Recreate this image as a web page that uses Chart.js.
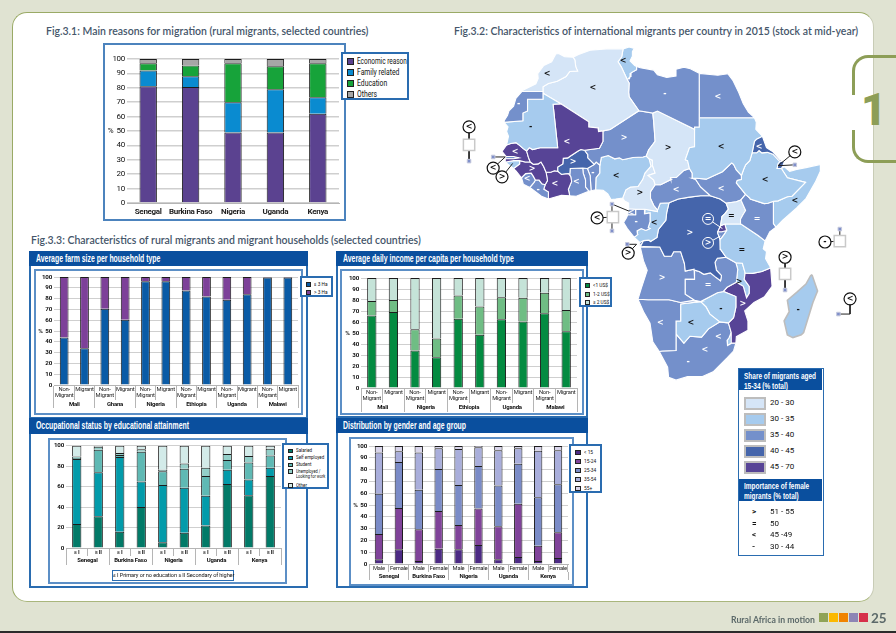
<!DOCTYPE html>
<html>
<head>
<meta charset="utf-8">
<script src="https://cdn.jsdelivr.net/npm/chart.js@4"></script>
<style>
html,body{margin:0;padding:0}
body{width:896px;height:633px;overflow:hidden;background:#e0e3d2;position:relative;font-family:Roboto,sans-serif}
.abs,canvas{position:absolute;box-sizing:border-box}
canvas{display:block}
.title{font:600 10.5px Lato,sans-serif;color:#45566a;white-space:nowrap}
.head{background:#0a4f9e;color:#fff;font:bold 10px "Liberation Sans",sans-serif;padding:1.5px 0 0 7px;white-space:nowrap;box-sizing:border-box}
.head span,.sq{display:inline-block;transform-origin:0 50%;transform:scaleX(.69)}
.frame{border:2px solid #2a6cb0;background:#fff}
.inner{border:2px solid #5c8fc6;background:#fff}
.leg{border:2px solid #2a6cb0;background:#fff;color:#111;white-space:nowrap;box-sizing:border-box}
.leg div{position:absolute;left:4px}
.leg i{display:inline-block;border:1.5px solid #222;box-sizing:border-box;vertical-align:-1px;margin-right:3px}
</style>
</head>
<body>
<div class="abs" style="left:12px;top:12px;width:862px;height:590px;background:#fff;border:1.5px solid #9aaa66;border-right-color:#c8ccb6;border-bottom-color:#a9b67c;border-radius:15px"></div>
<div class="abs" style="left:0;top:631px;width:896px;height:2px;background:#2b2b2b"></div>

<div class="abs" style="left:852px;top:55px;width:44px;height:40px;border-left:3px solid #8d9e57;border-top:3px solid #8d9e57;border-top-left-radius:16px"></div>
<div class="abs" style="left:852px;top:130px;width:44px;height:33px;border-left:3px solid #8d9e57;border-bottom:3px solid #8d9e57;border-bottom-left-radius:16px"></div>
<div class="abs" style="left:861px;top:84px;font:900 44px Roboto,sans-serif;color:#8d9e57;line-height:52px">1</div>

<div class="abs title" style="left:46px;top:25px">Fig.3.1: Main reasons for migration (rural migrants, selected countries)</div>
<div class="abs title" style="left:454px;top:25px">Fig.3.2: Characteristics of international migrants per country in 2015 (stock at mid-year)</div>
<div class="abs title" style="left:31px;top:234px">Fig.3.3: Characteristics of rural migrants and migrant households (selected countries)</div>

<div class="abs frame" style="left:29px;top:251px;width:279px;height:168px"></div>
<div class="abs frame" style="left:336px;top:251px;width:252px;height:167px"></div>
<div class="abs frame" style="left:29px;top:418px;width:279px;height:170px"></div>
<div class="abs frame" style="left:336px;top:418px;width:252px;height:170px"></div>
<div class="abs head" style="left:29px;top:251px;width:279px;height:15px"><span>Average farm size per household type</span></div>
<div class="abs head" style="left:336px;top:251px;width:252px;height:15px"><span>Average daily income per capita per household type</span></div>
<div class="abs head" style="left:29px;top:418px;width:279px;height:16px"><span>Occupational status by educational attainment</span></div>
<div class="abs head" style="left:336px;top:418px;width:252px;height:15px"><span>Distribution by gender and age group</span></div>

<div id="root"></div>

<div class="abs" style="left:738px;top:368px;width:86px;height:188px;border:1.5px solid #2a6cb0;background:#fff;color:#111;font-size:8px" id="mapkey"></div>

<div class="abs" style="left:731px;top:614px;font:bold 8.7px Lato,sans-serif;color:#5c6a6a;white-space:nowrap">Rural Africa in motion</div>
<div class="abs" style="left:871px;top:610px;font:bold 13.5px Lato,sans-serif;color:#5c6a6a">25</div>
<div id="footswatches"></div>

<script>
// Fig 3.1
const reasonCountries = ["Senegal", "Burkina Faso", "Nigeria", "Uganda", "Kenya"]
const economicReason = [81, 80.5, 49, 49, 62]
const familyRelated = [11, 7.5, 21, 30, 11.5]
const education = [5, 7.5, 27, 16, 23.5]
const otherReason = [3, 4.5, 3, 5, 3]

// Fig 3.3 farm size
const farmGroups = ["Mali", "Ghana", "Nigeria", "Ethiopia", "Uganda", "Malawi"]
const farmSmall = [44, 34, 70.5, 60.5, 96, 96, 87.5, 82, 79, 84, 99.5, 99.5]
const farmLarge = [56, 66, 29.5, 39.5, 4, 4, 12.5, 18, 21, 16, 0.5, 0.5]

// Fig 3.3 income
const incomeGroups = ["Mali", "Nigeria", "Ethiopia", "Uganda", "Malawi"]
const incomeLow = [66, 69, 34, 28, 63, 48.5, 62.5, 60.5, 68, 51.5]
const incomeMid = [13, 11, 19.5, 17, 21, 25.5, 20, 21.5, 18.5, 19.5]
const incomeHigh = [21, 20, 46.5, 55, 16, 26, 17.5, 18, 13.5, 29]

// Fig 3.3 occupation
const occupationGroups = ["Senegal", "Burkina Faso", "Nigeria", "Uganda", "Kenya"]
const occupationLevels = ["≤ I", "≥ II", "≤ I", "≥ II", "≤ I", "≥ II", "≤ I", "≥ II", "≤ I", "≥ II"]
const salaried = [23.5, 31, 16, 40, 5.5, 15, 22, 62.5, 51.5, 70.5]
const selfEmployed = [63.5, 43, 73, 25, 56, 44, 29, 14, 15.5, 8]
const student = [1, 22, 2, 29, 13.5, 18.5, 19.5, 9.5, 16.5, 12]
const unemployed = [1.5, 3, 2, 2.5, 1.5, 5, 8, 6, 6.5, 6.5]
const otherStatus = [10.5, 1, 7, 3.5, 23.5, 17.5, 21.5, 8, 10, 3]

// Fig 3.3 gender and age
const ageGroups = ["Senegal", "Burkina Faso", "Nigeria", "Uganda", "Kenya"]
const ageUnder15 = [4, 12.5, 2.5, 13, 12.5, 16, 4, 6, 2.5, 5]
const age15to24 = [21.5, 35, 27, 32, 20.5, 31, 28, 45, 13, 22]
const age25to34 = [34, 39, 33.5, 35.5, 34, 36, 34.5, 34, 41, 40.5]
const age35to54 = [35, 9, 31.5, 17.5, 30.5, 16, 30, 13, 39.5, 29]
const age55plus = [5.5, 4.5, 5.5, 2, 2.5, 1, 3.5, 2, 4, 3.5]

// Fig 3.2 outlines, lon / lat
const morocco = [[-5.9,35.8],[-5.3,35.9],[-4,35.2],[-2.2,35.1],[-1.8,34.5],[-1.6,33],[-1.2,32.1],[-2.9,32],[-3.7,30.9],[-5.6,29.9],[-7.5,29.4],[-8.67,28.7],[-8.67,27.67],[-13.2,27.67],[-12.9,28],[-10.2,29.3],[-9.7,30.5],[-9.8,31.5],[-8.5,33.3],[-6.8,34.1]]
const westernSahara = [[-8.67,27.67],[-13.2,27.67],[-14.5,26.2],[-15,24.5],[-16,23.5],[-16.3,22.5],[-17,21.4],[-17.05,21],[-13,21.33],[-13,23],[-12,23.45],[-12,26],[-8.67,26]]
const mauritania = [[-17.05,21],[-16.2,20],[-16.5,19],[-16.1,18],[-16.5,16.1],[-15.6,16.4],[-14.5,16.6],[-13.7,16],[-12.9,15.3],[-12.2,14.8],[-11.6,15.5],[-10.9,15.1],[-9.3,15.5],[-5.5,15.5],[-6.5,24.9],[-4.83,25],[-8.67,27.3],[-8.67,26],[-12,26],[-12,23.45],[-13,23],[-13,21.33]]
const mali = [[-12.2,14.8],[-11.6,15.5],[-10.9,15.1],[-9.3,15.5],[-5.5,15.5],[-6.5,24.9],[-4.83,25],[1.2,21.1],[1.2,20],[3.2,19.8],[3.3,19],[4.25,19.15],[4.25,16.85],[3.5,15.4],[0.3,14.95],[-0.5,15.1],[-1.1,14.8],[-2,14.2],[-2.9,13.6],[-3.3,13.3],[-4.3,13.2],[-4.4,12],[-5.5,11.3],[-5.5,10.4],[-6.2,10.5],[-7,10.2],[-8,10.2],[-8.5,11.4],[-9.1,12.4],[-9.7,12],[-10.7,11.9],[-11.4,12.4],[-11.8,13.4]]
const algeria = [[-2.2,35.1],[-1,35.7],[1.5,36.6],[5,36.9],[8.6,36.9],[8.3,35.2],[7.5,34.1],[8.2,33],[9.5,30.2],[9.9,29.5],[9.8,27.5],[9.9,26.5],[12,23.5],[5.8,19.45],[4.25,19.15],[3.3,19],[3.2,19.8],[1.2,20],[1.2,21.1],[-4.83,25],[-8.67,27.3],[-8.67,28.7],[-7.5,29.4],[-5.6,29.9],[-3.7,30.9],[-2.9,32],[-1.2,32.1],[-1.6,33],[-1.8,34.5]]
const tunisia = [[8.6,36.9],[9.9,37.3],[11,37],[10.6,36.3],[10.6,35.3],[10.1,34.3],[11.1,33.3],[11.5,33.1],[11.5,32.4],[10.3,31.7],[10.1,30.9],[9.5,30.2],[8.2,33],[7.5,34.1],[8.3,35.2]]
const libya = [[11.5,33.1],[12.3,32.8],[15.2,32.3],[16,31.3],[18,30.7],[20,31],[20,32.5],[21.7,32.9],[23.1,32.6],[25,31.6],[25,22],[25,20],[24,20],[24,19.5],[16,23.45],[15,23],[12,23.5],[9.9,26.5],[9.8,27.5],[9.9,29.5],[9.5,30.2],[10.1,30.9],[10.3,31.7],[11.5,32.4]]
const egypt = [[25,31.6],[29,31.2],[31.2,31.5],[32.3,30],[33.5,27.5],[34.5,25],[35.6,23.2],[36.9,22],[25,22]]
const sudan = [[25,22],[36.9,22],[37.3,21],[37.2,19.5],[38.6,18],[37.4,17.4],[36.9,16.9],[36.4,14.4],[35.9,12.7],[35,11.8],[34.6,10.9],[34.1,9.5],[33,10.7],[32.4,11.9],[32,12.2],[30,10.3],[28,9.4],[26.5,8.7],[24.5,8.9],[23.5,8.9],[23.5,10],[22.9,11],[22.5,12.7],[22,12.9],[22.9,15.5],[24,15.7],[24,20],[25,20]]
const eritrea = [[38.6,18],[39.5,15.5],[40.8,14.7],[42.4,12.9],[43.1,12.7],[42.4,12.5],[40.9,14.1],[39.7,14.5],[38.5,14.4],[37.9,14.9],[37.4,14.4],[36.4,14.4],[36.9,16.9],[37.4,17.4]]
const djibouti = [[42.4,12.5],[43.1,12.7],[43.3,12.4],[43,11.5],[42.7,11],[41.8,11],[42,12]]
const ethiopia = [[36.4,14.4],[37.4,14.4],[37.9,14.9],[38.5,14.4],[39.7,14.5],[40.9,14.1],[42.4,12.5],[42,12],[41.8,11],[42.7,11],[44,9],[47.9,8],[45,5],[44,4.9],[42,4],[41,3.9],[39.8,3.5],[39,3.4],[36,4.4],[35.9,4.6],[35,5.4],[33,7.9],[33.2,8.4],[34.1,8.6],[34.1,9.5],[34.6,10.9],[35,11.8],[35.9,12.7]]
const somalia = [[42.7,11],[43.3,11.4],[44.5,10.4],[46,10.8],[48,11.2],[51.2,11.9],[51.1,10.4],[50,8],[48,4.5],[46,2.5],[43,-0.2],[41.55,-1.68],[41,-0.9],[41,3.9],[42,4],[44,4.9],[45,5],[47.9,8],[44,9]]
const kenya = [[41.55,-1.68],[40.2,-2.7],[39.2,-4.67],[37.7,-3.5],[34,-1],[33.9,0],[34.5,1.1],[35,1.9],[34,4.2],[35,5.4],[35.9,4.6],[36,4.4],[39,3.4],[39.8,3.5],[41,3.9],[41,-0.9]]
const uganda = [[33.9,0],[34,-1],[30.5,-1],[29.6,-1.4],[29.9,0.6],[30.5,1.2],[31.3,2.2],[30.8,3.5],[33,3.8],[34,4.2],[35,1.9],[34.5,1.1]]
const rwanda = [[30.5,-1],[30.9,-2.4],[29.9,-2.7],[29,-2.7],[29.6,-1.4]]
const burundi = [[29.9,-2.7],[30.9,-2.4],[30.4,-3.2],[29.5,-4.4],[29,-3],[29,-2.7]]
const tanzania = [[34,-1],[37.7,-3.5],[39.2,-4.67],[38.8,-6.4],[39.5,-7],[39.3,-8.5],[40.4,-10.5],[38.5,-11.3],[36.5,-11.7],[34.9,-11.6],[34.3,-9.5],[32.9,-9.4],[30.8,-8.2],[29.6,-6.5],[29.5,-4.4],[30.4,-3.2],[30.9,-2.4],[30.5,-1]]
const southSudan = [[34.1,9.5],[34.1,8.6],[33.2,8.4],[33,7.9],[35,5.4],[34,4.2],[33,3.8],[30.8,3.5],[29.5,4.4],[27.4,5.1],[25.3,7],[24.2,8.7],[23.5,8.9],[24.5,8.9],[26.5,8.7],[28,9.4],[30,10.3],[32,12.2],[32.4,11.9],[33,10.7]]
const chad = [[24,19.5],[24,15.7],[22.9,15.5],[22,12.9],[22.5,12.7],[22.9,11],[21.7,10.6],[20.1,9.1],[18.8,9],[18.9,8.6],[16.7,7.5],[15.5,7.5],[15.2,8.5],[14,9.5],[15.5,10],[15,11.5],[14.9,12.8],[14.2,13.1],[13.6,13.7],[14.1,15],[15.5,16.9],[15.2,21],[15,23],[16,23.45]]
const niger = [[12,23.5],[15,23],[15.2,21],[15.5,16.9],[14.1,15],[13.6,13.7],[12.9,13.5],[10.7,13.4],[8.5,12.9],[7.8,13.3],[6.8,13.1],[5.4,13.8],[3.9,13.4],[3.6,11.7],[2.8,12.4],[2.4,11.9],[1,13.3],[1,14],[0.3,14.95],[3.5,15.4],[4.25,16.85],[4.25,19.15],[5.8,19.45]]
const nigeria = [[3.6,11.7],[3.9,13.4],[5.4,13.8],[6.8,13.1],[7.8,13.3],[8.5,12.9],[10.7,13.4],[12.9,13.5],[13.6,13.7],[14.2,13.1],[14.6,11.5],[13.3,10],[12.8,8.6],[11.8,7.1],[10.2,7],[9.2,6.4],[8.5,4.6],[7,4.4],[6,4.3],[5.3,5.5],[4.3,6.3],[2.7,6.4],[2.8,9],[3.6,10]]
const cameroon = [[14.2,13.1],[14.9,12.8],[15,11.5],[15.5,10],[14,9.5],[15.2,8.5],[15.5,7.5],[14.5,6],[14.5,4.5],[15.2,3],[16,2],[16,1.7],[13.3,2.2],[11.3,2.2],[9.8,2.3],[9.8,3.5],[8.9,4],[8.5,4.6],[9.2,6.4],[10.2,7],[11.8,7.1],[12.8,8.6],[13.3,10],[14.6,11.5]]
const car = [[22.9,11],[23.5,10],[23.5,8.9],[24.2,8.7],[25.3,7],[27.4,5.1],[25.3,5.1],[22.9,4.8],[20.5,4.4],[18.5,3.6],[16.6,3.5],[16,2],[15.2,3],[14.5,4.5],[14.5,6],[15.5,7.5],[16.7,7.5],[18.9,8.6],[18.8,9],[20.1,9.1],[21.7,10.6]]
const eqGuinea = [[9.8,2.3],[11.3,2.2],[11.3,1],[9.6,1]]
const gabon = [[9.6,1],[11.3,1],[11.3,2.2],[13.3,2.2],[13.2,1.2],[14.4,1.4],[14.4,-0.5],[14,-1.8],[14.4,-2],[13.5,-2.4],[12.5,-2],[11.6,-2.5],[11.7,-3.3],[11,-3.9],[9.5,-2],[8.7,-0.7],[9.3,0.3]]
const congo = [[13.3,2.2],[16,1.7],[16,2],[16.6,3.5],[18.5,3.6],[18,1.5],[17.8,-0.2],[16.2,-2.2],[15.9,-3.9],[14.5,-4.8],[14.2,-4.5],[13,-4.6],[12.2,-5],[11,-3.9],[11.7,-3.3],[11.6,-2.5],[12.5,-2],[13.5,-2.4],[14.4,-2],[14,-1.8],[14.4,-0.5],[14.4,1.4],[13.2,1.2]]
const drc = [[18.5,3.6],[20.5,4.4],[22.9,4.8],[25.3,5.1],[27.4,5.1],[29.5,4.4],[30.8,3.5],[31.3,2.2],[30.5,1.2],[29.9,0.6],[29.6,-1.4],[29,-2.7],[29,-3],[29.5,-4.4],[29.6,-6.5],[30.8,-8.2],[28.9,-8.4],[28.4,-9.3],[28.7,-11],[29.8,-12.2],[29.6,-13.3],[28.4,-12.4],[27.4,-11.6],[26,-11.9],[25,-11.3],[24,-11],[23.9,-10.8],[22,-11.2],[21.8,-9.5],[21,-7],[19.5,-7],[19,-8],[17.5,-8],[16.5,-6],[13,-5.9],[12.3,-6],[13,-4.6],[14.2,-4.5],[14.5,-4.8],[15.9,-3.9],[16.2,-2.2],[17.8,-0.2],[18,1.5]]
const cabinda = [[12.2,-5],[13,-4.6],[12.9,-5],[12.2,-5.8]]
const zambia = [[30.8,-8.2],[32.9,-9.4],[33.3,-10.8],[33,-13.6],[31,-14.7],[30.2,-15.6],[28.9,-15.9],[27.8,-16.5],[25.3,-17.8],[24,-17.5],[22,-16.2],[22,-13],[24,-13],[24,-11],[25,-11.3],[26,-11.9],[27.4,-11.6],[28.4,-12.4],[29.6,-13.3],[29.8,-12.2],[28.7,-11],[28.4,-9.3],[28.9,-8.4]]
const angola = [[12.3,-6],[13,-5.9],[16.5,-6],[17.5,-8],[19,-8],[19.5,-7],[21,-7],[21.8,-9.5],[22,-11.2],[23.9,-10.8],[24,-11],[24,-13],[22,-13],[22,-16.2],[24,-17.5],[23.4,-17.6],[21,-18],[18.5,-17.4],[14,-17.4],[11.8,-17.3],[12.5,-15],[13.8,-11],[13,-9]]
const namibia = [[11.8,-17.3],[14,-17.4],[18.5,-17.4],[21,-18],[23.4,-17.6],[25.3,-17.8],[21,-18.3],[21,-22],[20,-22],[20,-28.4],[17,-28.5],[16.4,-28.6],[15,-26.5],[14.4,-22.5],[13,-20]]
const botswana = [[21,-18.3],[25.3,-17.8],[26.5,-19],[27.3,-20.5],[29.4,-22.2],[27,-23.7],[25.5,-25.5],[23,-25.3],[21.7,-26.8],[20,-24.8],[20,-22],[21,-22]]
const zimbabwe = [[25.3,-17.8],[27.8,-16.5],[28.9,-15.9],[30.2,-15.6],[32.9,-16.7],[32.9,-19],[32.4,-21.3],[31.3,-22.4],[29.4,-22.2],[27.3,-20.5],[26.5,-19]]
const mozambique = [[40.4,-10.5],[40.7,-14.5],[39,-16.8],[36.8,-18],[34.8,-19.8],[35.5,-22],[35.5,-24],[33,-25.4],[32.9,-26.8],[32,-26.8],[31.9,-24.5],[31.3,-22.4],[32.4,-21.3],[32.9,-19],[32.9,-16.7],[30.2,-15.6],[31,-14.7],[33,-13.6],[34.5,-14.5],[35.2,-17],[35.8,-16],[35.8,-14.5],[34.7,-13],[34.9,-11.6],[36.5,-11.7],[38.5,-11.3]]
const malawi = [[32.9,-9.4],[34.3,-9.5],[34.9,-11.6],[34.7,-13],[35.8,-14.5],[35.8,-16],[35.2,-17],[34.5,-14.5],[33,-13.6],[33.3,-10.8]]
const southAfrica = [[16.4,-28.6],[17,-28.5],[20,-28.4],[20,-24.8],[21.7,-26.8],[23,-25.3],[25.5,-25.5],[27,-23.7],[29.4,-22.2],[31.3,-22.4],[31.9,-24.5],[31.4,-25.7],[31,-26.2],[31.1,-27.3],[32,-26.8],[32.9,-26.8],[32.4,-28.5],[31,-30],[28,-33],[25.7,-34],[22.5,-34],[20,-34.8],[18.4,-34.2],[18.2,-32]]
const lesotho = [[27,-29.6],[28.2,-28.7],[29.3,-29.5],[28.4,-30.6],[27.4,-30.3]]
const swaziland = [[31.4,-25.7],[31.9,-24.5],[32,-26.8],[31.1,-27.3],[31,-26.2]]
const madagascar = [[49.3,-12],[50.5,-15.5],[49.5,-18],[47.5,-24.5],[47,-25],[45.2,-25.6],[44,-25],[43.3,-22],[44.4,-20],[44,-17.5],[46,-15.8],[48,-14],[49,-12.2]]
const senegal = [[-16.5,16.1],[-15.6,16.4],[-14.5,16.6],[-13.7,16],[-12.9,15.3],[-12.2,14.8],[-11.8,13.4],[-11.4,12.4],[-12.5,12.4],[-13.7,12.7],[-15,12.7],[-16.7,12.4],[-16.8,13.1],[-15,13.1],[-13.8,13.3],[-15,13.6],[-16.6,13.6],[-17.5,14.7]]
const gambia = [[-16.8,13.1],[-15,13.1],[-13.8,13.3],[-15,13.6],[-16.6,13.6]]
const guineaBissau = [[-16.7,12.4],[-15,12.7],[-13.7,12.7],[-13.7,12],[-15,11],[-16.3,12]]
const guinea = [[-13.7,12.7],[-12.5,12.4],[-11.4,12.4],[-10.7,11.9],[-9.7,12],[-9.1,12.4],[-8.5,11.4],[-8,10.2],[-7.7,8.4],[-8.2,7.5],[-8.9,7.7],[-9.5,8.5],[-10.3,8.5],[-10.8,9.4],[-11.2,10],[-12.4,9.9],[-13.3,9],[-14.5,10.5],[-15,11],[-13.7,12]]
const sierraLeone = [[-13.3,9],[-12.4,9.9],[-11.2,10],[-10.8,9.4],[-10.3,8.5],[-10.6,8],[-11.5,6.9],[-12.9,7.6]]
const liberia = [[-11.5,6.9],[-10.6,8],[-10.3,8.5],[-9.5,8.5],[-8.9,7.7],[-8.2,7.5],[-8.5,6.5],[-7.5,5.9],[-7.5,4.4],[-9,5]]
const coteDivoire = [[-8,10.2],[-7,10.2],[-6.2,10.5],[-5.5,10.4],[-4.7,9.7],[-3.2,9.9],[-2.7,9.3],[-2.5,8.2],[-3.2,6.5],[-2.9,5.1],[-4.7,5.2],[-7.5,4.4],[-7.5,5.9],[-8.5,6.5],[-8.2,7.5],[-7.7,8.4]]
const burkina = [[-5.5,10.4],[-5.5,11.3],[-4.4,12],[-4.3,13.2],[-3.3,13.3],[-2.9,13.6],[-2,14.2],[-1.1,14.8],[-0.5,15.1],[0.3,14.95],[1,14],[1,13.3],[2.4,11.9],[0.9,11],[-0.1,11.1],[-2.8,11],[-2.9,9.6],[-3.2,9.9],[-4.7,9.7]]
const ghana = [[-2.8,11],[-0.1,11.1],[0,10],[0.5,8.5],[0.5,7],[1.2,6.1],[-1.5,5],[-2.9,5.1],[-3.2,6.5],[-2.5,8.2],[-2.7,9.3],[-2.9,9.6]]
const togo = [[-0.1,11.1],[0.9,11],[1.5,9.4],[1.7,6.2],[1.2,6.1],[0.5,7],[0.5,8.5],[0,10]]
const benin = [[0.9,11],[2.4,11.9],[2.8,12.4],[3.6,11.7],[3.6,10],[2.8,9],[2.7,6.4],[1.7,6.2],[1.5,9.4]]

const mapShapes = [morocco, westernSahara, mauritania, mali, algeria, tunisia, libya, egypt, sudan, eritrea, djibouti, ethiopia, somalia, kenya, uganda, rwanda, burundi, tanzania, southSudan, chad, niger, nigeria, cameroon, car, eqGuinea, gabon, congo, drc, cabinda, zambia, angola, namibia, botswana, zimbabwe, mozambique, malawi, southAfrica, lesotho, swaziland, madagascar, senegal, gambia, guineaBissau, guinea, sierraLeone, liberia, coteDivoire, burkina, ghana, togo, benin]
// share class of 15-34 year olds, 0 = 20-30 ... 4 = 45-70, same order as mapShapes
const mapClass = [0, 2, 1, 4, 0, 1, 2, 2, 1, 3, 3, 1, 1, 2, 0, 4, 2, 1, 2, 0, 2, 1, 0, 2, 2, 2, 1, 3, 3, 2, 2, 2, 1, 1, 4, 1, 2, 4, 1, 1, 4, 2, 1, 4, 2, 2, 4, 3, 2, 2, 2]
const classNames = ["20 - 30", "30 - 35", "35 - 40", "40 - 45", "45 - 70"]
const symbolNames = ["51 - 55", "50", "45 -49", "30 - 44"]
const keySymbols = [">", "=", "<", "-"]

// symbol, lon, lat, light text
const mapSymbols = [["<",-7.8,31.5,0],["<",2.1,28.4,0],["<",8.6,34.3,0],["-",17.6,27.1,1],["<",29,26.5,1],["-",-13.9,25,1],["-",-11.3,20,0],["<",-3.5,16.7,1],[">",8.8,17.6,1],[">",18.3,15.4,0],["<",29.7,15.7,0],["<",37.9,15.7,1],["<",39.2,8.5,0],["<",45.6,4,0],["<",-14.7,14.6,1],[">",-11,10.9,1],["<",-12.1,8.7,1],["-",-9.7,6.3,1],["<",-6.1,7.6,1],[">",-2.2,12.4,1],["<",-1.5,8.1,1],["-",2.1,10,1],["<",7.1,9.4,0],[">",12.2,5.7,0],["<",20,6.4,1],["<",29.7,6.6,1],["-",11.4,-0.6,1],["<",15.3,-0.8,0],[">",23,-3,1],["=",31.9,0.7,0],["=",37.5,0,1],["=",34.2,-6.6,0],[">",17,-12.7,1],["=",26.9,-14.2,1],[">",33.6,-13.6,0],[">",34.4,-18.3,1],["-",29.7,-19.4,0],["<",23.2,-22.4,0],["<",16.6,-22.4,1],["-",22.6,-30.9,1],["<",26.2,-28.3,1],["<",29.1,-25.5,1],["-",46.3,-19.6,0],["<",10.3,1.4,1]]

// circles of the small countries: symbol, lon, lat
const calloutCircles = [["<",-24.6,20],["<",-19.4,11.1],[">",-17.5,9.2],["<",3,0.3],[">",9.7,-7.3],["<",45.6,14.6],["-",52.1,-4.9],[">",43.5,-8.2],["<",57.5,-17.2]]
const calloutLeaders = [[[-24.6,20],[-24.6,12.6]],[[-19.4,11.1],[-16.8,13.5],[-19.4,13.5]],[[-17.5,9.2],[-15.2,12.1]],[[3,0.3],[6.3,0.5]],[[6.2,-2.5],[6.2,3.3],[10.3,1.6]],[[9.7,-7.3],[11.5,-5.4],[9.5,-5.4]],[[45.6,14.6],[42,11.6],[45.6,11.8]],[[52.1,-4.9],[55.3,-4.7],[55.3,-2.1]],[[43.5,-8.2],[43.5,-15.3]],[[57.5,-17.2],[57.5,-20.5],[55,-20.5]]]
// Rwanda and Burundi, drawn in white on the DRC
const innerCircles = [["=",26.9,0.1],[">",26.9,-5.1]]
const innerLeaders = [[[26.9,0.1],[30,-2]],[[26.9,-5.1],[29.6,-3.6]]]
const insetBoxes = [[-24.6,16.1],[6.4,0.5],[55.3,-4.7],[43.5,-11.8]]
const islandMarks = [[-24.6,12.6],[-19.4,13.5],[6.2,-2.5],[6.2,3.3],[9.5,-5.4],[45.6,11.8],[55.3,-2.1],[43.5,-15.3],[55,-20.5]]

const footColors = ["#8fa356", "#fbb900", "#f08300", "#8d85b5", "#d6304a"]
const classColors = ["#d5e5f7", "#a6cbee", "#7490cb", "#4565ab", "#574496"]

Chart.defaults.animation = false
Chart.defaults.font.family = 'Roboto, sans-serif'
Chart.defaults.color = "#111"

const root = document.getElementById("root")

function el(cls, left, top, w, h) {
  const d = document.createElement("div")
  d.className = "abs " + cls
  d.style.cssText = `left:${left}px;top:${top}px;width:${w}px;height:${h}px`
  root.appendChild(d)
  return d
}

function legendBox(left, top, w, h, items, colors, size, box, rowH) {
  const d = el("leg", left, top, w, h)
  d.style.fontSize = size + "px"
  items.forEach((t, i) => {
    const r = document.createElement("div")
    r.style.top = (2 + i * rowH) + "px"
    r.style.lineHeight = (rowH - 0.5) + "px"
    r.innerHTML = `<i style="width:${box}px;height:${box}px;background:${colors[i]}"></i><span class="sq" style="transform:scaleX(.8);vertical-align:top">${t}</span>`
    d.appendChild(r)
  })
  return d
}

function stackedBars(box, plot, labels, groups, series, o) {
  const frame = el("inner", box.x, box.y, box.w, box.h)
  if (o.plain) { frame.style.borderColor = "#4c83bd" }
  const c = document.createElement("canvas")
  c.width = box.w - 4
  c.height = box.h - 4
  c.style.left = "0"
  c.style.top = "0"
  frame.appendChild(c)
  const ox = box.x + 2, oy = box.y + 2
  const scales = {
    x: {
      stacked: true,
      weight: 0,
      grid: {drawOnChartArea: false, color: "#b5b5b5", tickLength: groups ? o.subH : 0, drawTicks: !!groups},
      border: {color: "#b5b5b5", display: true},
      ticks: {
        autoSkip: false, maxRotation: 0, minRotation: 0,
        padding: groups ? 1 - o.subH : o.subPad,
        font: {size: o.sub, weight: o.subWeight || "normal", lineHeight: 1.1},
        color: "#222"
      },
      afterFit: s => { s.height = o.subH }
    },
    y: {
      stacked: true, min: 0, max: 100,
      grid: {color: "#cfcfcf", lineWidth: o.gridW || 1, drawTicks: false},
      border: {display: false},
      ticks: {
        stepSize: 10, padding: 2, font: {size: o.tick, weight: o.tickWeight || "bold"}, color: "#111",
        callback: v => v === 50 ? "%  50" : v
      },
      afterFit: s => { s.width = plot.l - ox }
    }
  }
  if (groups) {
    scales.x2 = {
      type: "category", axis: "x", position: "bottom", weight: 1, labels: groups, offset: true,
      grid: {drawOnChartArea: false, offset: true, color: "#b5b5b5", tickLength: o.groupH},
      border: {display: false},
      ticks: {autoSkip: false, maxRotation: 0, padding: 1 - o.groupH, font: {size: o.group, weight: "bold"}, color: "#111"},
      afterFit: s => { s.height = o.groupH }
    }
  }
  return new Chart(c, {
    type: "bar",
    data: {
      labels,
      datasets: series.map(s => ({
        label: s.name, data: s.data, backgroundColor: s.color,
        borderColor: "#1c1c1c", borderWidth: 1,
        barPercentage: o.bar, categoryPercentage: 1
      }))
    },
    options: {
      responsive: false,
      layout: {padding: {top: plot.t - oy, right: ox + c.width - plot.r, bottom: oy + c.height - plot.b - o.subH - (groups ? o.groupH : 0), left: 0}},
      plugins: {legend: {display: false}, tooltip: {enabled: false}},
      scales
    },
    plugins: [{id: "tightText", beforeDraw(chart) { chart.ctx.letterSpacing = o.spacing || "-0.2px" }}]
  })
}

const migrantLabels = g => g.flatMap(() => [["Non-", "Migrant"], "Migrant"])

// Fig 3.1
stackedBars({x: 103, y: 43, w: 243, h: 178}, {l: 127, t: 59, r: 339, b: 203}, reasonCountries, null, [
  {name: "Economic reason", data: economicReason, color: "#5b4290"},
  {name: "Family related", data: familyRelated, color: "#0a8bd0"},
  {name: "Education", data: education, color: "#17a33a"},
  {name: "Others", data: otherReason, color: "#a6a6a6"}
], {tick: 8, tickWeight: "normal", sub: 8, subWeight: "bold", subH: 14, subPad: 5, bar: 0.41, gridW: 1.5, plain: true, spacing: "-0.3px"})
const reasonKey = legendBox(341, 52, 68, 48, ["Economic reason", "Family related", "Education", "Others"], ["#5b4290", "#0a8bd0", "#17a33a", "#a6a6a6"], 8.5, 7, 11)
reasonKey.children[0].lastChild.style.transform = "scaleX(.76)"

// Farm size
stackedBars({x: 34, y: 269, w: 269, h: 146}, {l: 54, t: 277, r: 298, b: 385}, migrantLabels(farmGroups), farmGroups, [
  {name: "≤ 3 Ha", data: farmSmall, color: "#0a5ba6"},
  {name: "> 3 Ha", data: farmLarge, color: "#7d4199"}
], {tick: 6.2, sub: 5.8, subH: 15, group: 6, groupH: 8, bar: 0.43})
legendBox(300, 276, 33, 21, ["≤ 3 Ha", "> 3 Ha"], ["#0a5ba6", "#7d4199"], 6, 5, 8)

// Daily income
stackedBars({x: 340, y: 269, w: 244, h: 146}, {l: 361, t: 278, r: 577, b: 388}, migrantLabels(incomeGroups), incomeGroups, [
  {name: "<1 US$", data: incomeLow, color: "#048b41"},
  {name: "1-2 US$", data: incomeMid, color: "#6fbd84"},
  {name: "≥ 2 US$", data: incomeHigh, color: "#c5e3d8"}
], {tick: 6.2, sub: 5.8, subH: 15, group: 6, groupH: 9, bar: 0.43})
legendBox(579, 277, 33, 30, ["<1 US$", "1-2 US$", "≥ 2 US$"], ["#048b41", "#6fbd84", "#c5e3d8"], 6, 5, 8.5)

// Occupation
stackedBars({x: 48, y: 438, w: 239, h: 146}, {l: 66, t: 445, r: 281, b: 548}, occupationLevels, occupationGroups, [
  {name: "Salaried", data: salaried, color: "#027a68"},
  {name: "Self employed", data: selfEmployed, color: "#039baa"},
  {name: "Student", data: student, color: "#5fb9b4"},
  {name: "Unemployed", data: unemployed, color: "#93cfc9"},
  {name: "Other", data: otherStatus, color: "#d3ebe9"}
], {tick: 6.2, sub: 5.8, subWeight: "bold", subH: 8, group: 6, groupH: 9, bar: 0.43})
const occ = legendBox(282, 443, 47, 46, ["Salaried", "Self employed", "Student", "Unemployed /<br>Looking for work", "Other"], ["#027a68", "#039baa", "#5fb9b4", "#93cfc9", "#d3ebe9"], 5.6, 4.5, 7.2)
occ.children[3].style.lineHeight = "5.2px"
occ.children[3].lastChild.style.lineHeight = "5.2px"
occ.children[3].lastChild.style.transform = "scaleX(.7)"
occ.children[4].style.top = "36.5px"
const eduKey = el("leg", 112, 570, 122, 11)
eduKey.style.cssText += ";border-width:1.5px;font:5.6px/8px Roboto,sans-serif;text-align:center;letter-spacing:-.1px"
eduKey.textContent = "≤ I  Primary or no education   ≥ II  Secondary of higher"

// Gender and age
stackedBars({x: 349, y: 437, w: 225, h: 149}, {l: 369, t: 446, r: 568, b: 564}, ageGroups.flatMap(() => ["Male", "Female"]), ageGroups, [
  {name: "< 15", data: ageUnder15, color: "#4c2a84"},
  {name: "15-24", data: age15to24, color: "#80439a"},
  {name: "25-34", data: age25to34, color: "#7a8bc7"},
  {name: "35-54", data: age35to54, color: "#a9aedb"},
  {name: "55+", data: age55plus, color: "#d8d4ea"}
], {tick: 6.2, sub: 5.8, subH: 8, group: 6, groupH: 8, bar: 0.42})
legendBox(569, 444, 33, 49, ["< 15", "15-24", "25-34", "35-54", "55+"], ["#4c2a84", "#80439a", "#7a8bc7", "#a9aedb", "#d8d4ea"], 6, 5.5, 9)

// Fig 3.2, the map is a scatter chart on lon / lat scales
const mapCanvas = document.createElement("canvas")
mapCanvas.width = 420
mapCanvas.height = 370
mapCanvas.style.left = "440px"
mapCanvas.style.top = "30px"
root.appendChild(mapCanvas)

const pt = ([x, y]) => ({x, y})
const symbolPlugin = {
  id: "mapSymbols",
  afterDatasetsDraw(chart) {
    const {ctx, scales: {x, y}} = chart
    ctx.save()
    ctx.textAlign = "center"
    ctx.textBaseline = "middle"
    ctx.font = 'bold 8px "DejaVu Sans", sans-serif'
    mapSymbols.forEach(([s, lon, lat, light]) => {
      ctx.fillStyle = light ? "#fff" : "#111"
      ctx.fillText(s, x.getPixelForValue(lon), y.getPixelForValue(lat))
    })
    ctx.fillStyle = "#111"
    calloutCircles.forEach(([s, lon, lat]) => {
      ctx.fillText(s, x.getPixelForValue(lon), y.getPixelForValue(lat))
    })
    ctx.fillStyle = "#fff"
    innerCircles.forEach(([s, lon, lat]) => {
      ctx.fillText(s, x.getPixelForValue(lon), y.getPixelForValue(lat))
    })
    ctx.restore()
  }
}

new Chart(mapCanvas, {
  type: "scatter",
  data: {
    datasets: [
      {data: calloutCircles.map(c => ({x: c[1], y: c[2]})), pointStyle: "circle", pointRadius: 6, pointBackgroundColor: "#fff", pointBorderColor: "#111", pointBorderWidth: 1.2, order: 1},
      {data: innerCircles.map(c => ({x: c[1], y: c[2]})), pointStyle: "circle", pointRadius: 5.5, pointBackgroundColor: "#4565ab", pointBorderColor: "#fff", pointBorderWidth: 1, order: 1},
      {data: islandMarks.map(pt), pointStyle: "rect", pointRadius: 2.5, pointBackgroundColor: "#7f8fca", pointBorderColor: "#c4c8dc", pointBorderWidth: 1, order: 2},
      {data: insetBoxes.map(pt), pointStyle: "rect", pointRadius: 8, pointBackgroundColor: "#fff", pointBorderColor: "#c9c9c9", pointBorderWidth: 1.5, order: 3},
      ...calloutLeaders.map(l => ({data: l.map(pt), showLine: true, borderColor: "#222", borderWidth: 1, pointRadius: 0, order: 4})),
      ...innerLeaders.map(l => ({data: l.map(pt), showLine: true, borderColor: "#fff", borderWidth: 1, pointRadius: 0, order: 4})),
      ...mapShapes.map((shape, i) => ({
        data: [...shape, shape[0]].map(pt),
        showLine: true, fill: "shape", tension: 0, pointRadius: 0,
        backgroundColor: classColors[mapClass[i]], borderColor: shape === madagascar ? "#bdbdbd" : "#fff", borderWidth: shape === madagascar ? 1.6 : 1.1, order: 5
      }))
    ]
  },
  options: {
    responsive: false,
    layout: {padding: 0, autoPadding: false},
    plugins: {legend: {display: false}, tooltip: {enabled: false}},
    scales: {
      x: {type: "linear", min: -30.86, max: 59.65, display: false},
      y: {type: "linear", min: -39.1, max: 40.98, display: false}
    }
  },
  plugins: [symbolPlugin]
})

// map key
const key = document.getElementById("mapkey")
function keyHead(top, h, a, b) {
  key.insertAdjacentHTML("beforeend", `<div class="abs" style="left:0;top:${top}px;width:83px;height:${h}px;background:#0a4f9e;color:#fff;font:bold 9px/10px 'Liberation Sans',sans-serif;padding:1.5px 0 0 5px;white-space:nowrap"><span class="sq" style="transform:scaleX(.72)">${a}<br>${b}</span></div>`)
}
keyHead(0, 21, "Share of migrants aged", "15-34 (% total)")
classNames.forEach((t, i) => {
  key.insertAdjacentHTML("beforeend", `<div class="abs" style="left:5px;top:${27.5 + i * 16}px;width:22px;height:13px;background:${classColors[i]};border:2px solid #bdbdbd"></div><div class="abs" style="left:31px;top:${28 + i * 16}px;line-height:12px">${t}</div>`)
})
keyHead(110, 22, "Importance of female", "migrants (% total)")
symbolNames.forEach((t, i) => {
  key.insertAdjacentHTML("beforeend", `<div class="abs" style="left:13px;top:${137 + i * 11.6}px;line-height:11px;font-weight:bold">${keySymbols[i]}</div><div class="abs" style="left:31px;top:${137 + i * 11.6}px;line-height:11px">${t}</div>`)
})

footColors.forEach((col, i) => {
  const d = document.createElement("div")
  d.className = "abs"
  d.style.cssText = `left:${819 + i * 10}px;top:613px;width:9px;height:9px;background:${col}`
  document.body.appendChild(d)
})
</script>
</body>
</html>
